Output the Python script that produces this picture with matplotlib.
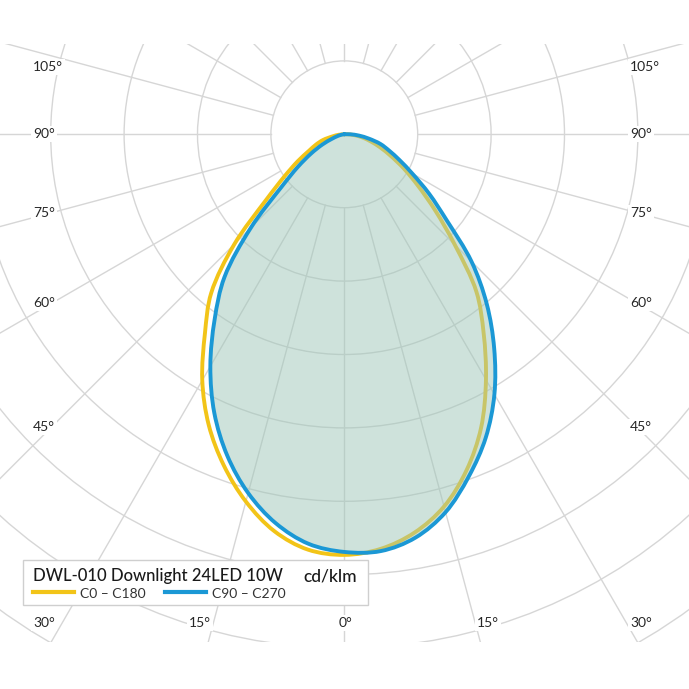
import numpy as np
import matplotlib.pyplot as plt
from matplotlib.patches import Rectangle, Circle, PathPatch
from matplotlib.lines import Line2D
from matplotlib.path import Path

plt.rcParams['font.family'] = ['Lato', 'DejaVu Sans']

# gamma angle from nadir (deg) and luminous intensity (cd/klm)
gamma = [0, 5, 10, 15, 20, 25, 30, 35, 40, 45, 50, 55, 60, 65, 70, 75, 80, 85, 90]
c180 = [573, 568, 549, 518, 480, 437, 387, 331, 282, 212, 139, 99, 73, 53, 41, 30, 16, 8, 0]
c0 = [572, 567, 551, 525, 487, 441, 386, 331, 280, 213, 162, 123, 94, 70, 52, 37, 25, 14, 4]
c270 = [569, 560, 538, 506, 466, 419, 365, 308, 254, 180, 112, 77, 52, 33, 18, 10, 5, 2, 0]
c90 = [569, 570, 558, 533, 496, 456, 409, 356, 302, 245, 182, 141, 107, 83, 65, 51, 34, 20, 8]

rings = [100, 200, 300, 400, 500, 600, 700, 800, 900]
spokes = list(range(0, 360, 15))

title = 'DWL-010 Downlight 24LED 10W'
unit = 'cd/klm'
names = ['C0 – C180', 'C90 – C270']
side_labels = ['105°', '90°', '75°', '60°', '45°', '30°']
side_y = [67, 134, 213, 303, 427, 623]
bottom_labels = ['15°', '0°', '15°']
bottom_x = [200, 346, 488]

YELLOW = '#f2c418'
BLUE = '#1b98d5'
GRID = '#d6d6d6'
TXT = '#262626'

W = H = 689
CX, CY = 344.3, 134.3          # pole of the diagram in pixels
k = rings[0] / 73.4            # cd/klm per pixel

fig = plt.figure(figsize=(6.89, 6.89), dpi=100)
ax = fig.add_axes([0, 0, 1, 1])
ax.set_axis_off()
ax.set_xlim(-CX * k, (W - CX) * k)
ax.set_ylim(-(H - CY) * k, CY * k)


def fx(x):
    return x / W


def fy(y):
    return 1 - y / H


# grid, clipped to a band
clip = Rectangle((-CX * k, -(642 - CY) * k), W * k, (642 - 44) * k,
                 transform=ax.transData, facecolor='none', edgecolor='none')
for r in rings:
    c = Circle((0, 0), r, fill=False, edgecolor=GRID, lw=1.0, zorder=1)
    ax.add_patch(c)
    c.set_clip_path(clip)
for a in spokes:
    t = np.radians(a)
    ln, = ax.plot([rings[0] * np.sin(t), 1500 * np.sin(t)],
                  [-rings[0] * np.cos(t), -1500 * np.cos(t)],
                  color=GRID, lw=1.0, zorder=1)
    ln.set_clip_path(clip)


def curve_path(left, right):
    # polar points of both half planes -> smooth closed path
    # (centripetal Catmull-Rom written as cubic Bezier segments)
    g = np.radians(gamma)
    ang = np.concatenate([[-np.pi / 2], -g[::-1], g[1:], [np.pi / 2]])
    rr = np.concatenate([[0], np.array(left)[::-1], np.array(right)[1:], [0]])
    pts = np.column_stack([rr * np.sin(ang), -rr * np.cos(ang)])
    keep = [0] + [i for i in range(1, len(pts)) if np.hypot(*(pts[i] - pts[i - 1])) > 1e-6]
    pts = pts[keep]
    ext = np.vstack([2 * pts[0] - pts[1], pts, 2 * pts[-1] - pts[-2]])
    verts = [pts[0]]
    codes = [Path.MOVETO]
    for i in range(1, len(ext) - 2):
        p0, p1, p2, p3 = ext[i - 1], ext[i], ext[i + 1], ext[i + 2]
        d0 = np.hypot(*(p1 - p0)) ** 0.5
        d1 = np.hypot(*(p2 - p1)) ** 0.5
        d2 = np.hypot(*(p3 - p2)) ** 0.5
        m1 = ((p1 - p0) / d0 - (p2 - p0) / (d0 + d1) + (p2 - p1) / d1) * d1
        m2 = ((p2 - p1) / d1 - (p3 - p1) / (d1 + d2) + (p3 - p2) / d2) * d1
        verts += [p1 + m1 / 3, p2 - m2 / 3, p2]
        codes += [Path.CURVE4] * 3
    return Path(verts, codes)


path_a = curve_path(c180, c0)
path_b = curve_path(c270, c90)

ax.add_patch(PathPatch(path_a, fill=False, edgecolor=YELLOW, lw=2.8, zorder=2,
                       joinstyle='round', capstyle='round'))
ax.add_patch(PathPatch(path_b, facecolor='#9fc7b9', alpha=0.5, lw=0, zorder=3))
ax.add_patch(PathPatch(path_b, fill=False, edgecolor=BLUE, lw=2.8, zorder=4,
                       joinstyle='round', capstyle='round'))

# angle labels
box = dict(facecolor='white', edgecolor='none', pad=1.5)
for lab, y in zip(side_labels, side_y):
    ax.text(fx(33), fy(y), lab, transform=ax.transAxes, ha='left', va='center',
            fontsize=10, color=TXT, bbox=box, zorder=5)
    ax.text(fx(630), fy(y), lab, transform=ax.transAxes, ha='left', va='center',
            fontsize=10, color=TXT, bbox=box, zorder=5)
for lab, x in zip(bottom_labels, bottom_x):
    ax.text(fx(x), fy(623), lab, transform=ax.transAxes, ha='center', va='center',
            fontsize=10, color=TXT, bbox=box, zorder=5)

# legend box
ax.add_patch(Rectangle((fx(23), fy(605)), fx(368) - fx(23), fy(560) - fy(605),
                       transform=ax.transAxes, facecolor='white',
                       edgecolor='#cfcfcf', lw=1.0, zorder=6))
ax.text(fx(33), fy(581), title, transform=ax.transAxes, ha='left', va='baseline',
        fontsize=12, fontweight='medium', color='#1a1a1a', zorder=7)
ax.text(fx(303), fy(581), unit, transform=ax.transAxes, ha='left', va='baseline',
        fontsize=12.5, fontweight='medium', color='#1a1a1a', zorder=7)
for col, name, x0 in zip([YELLOW, BLUE], names, [33, 165]):
    ax.add_line(Line2D([fx(x0), fx(x0 + 41)], [fy(592), fy(592)],
                       transform=ax.transAxes, color=col, lw=3.0, zorder=7))
    ax.text(fx(x0 + 47), fy(598), name, transform=ax.transAxes, ha='left',
            va='baseline', fontsize=10, color='#333333', zorder=7)

fig.savefig('out.png', dpi=100, facecolor='white')
